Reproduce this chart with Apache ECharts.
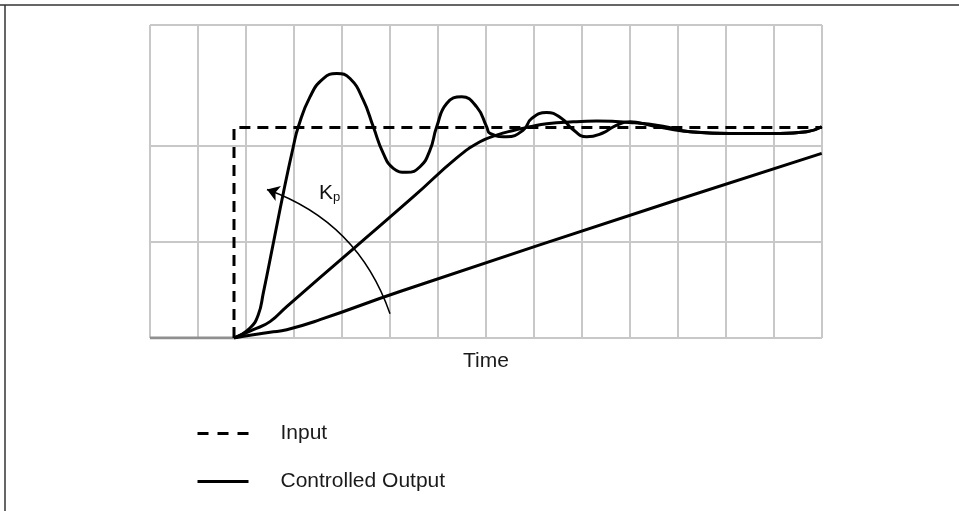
<!DOCTYPE html>
<html>
<head>
<meta charset="utf-8">
<script src="https://cdn.jsdelivr.net/npm/echarts@6/dist/echarts.min.js"></script>
<style>html,body{margin:0;padding:0;background:#fff}#c{width:959px;height:511px}</style>
</head>
<body>
<div id="c"></div>
<script>
// ---- data (x = time in grid columns, y = response in grid rows) ----
const xGridValues = [0,1,2,3,4,5,6,7,8,9,10,11,12,13,14];
const yGridValues = [0, 1, 2, 3.25];
const preStep = [[0, 0], [1.75, 0]];
const inputStep = [[1.75, 0], [1.75, 2.187], [14, 2.187]];
const outputHighKp = [
  [1.75,0],[2.083,0.104],[2.256,0.241],[2.36,0.466],[2.569,0.984],[2.777,1.503],
  [2.985,1.986],[3.09,2.193],[3.333,2.504],[3.61,2.694],[3.89,2.746],[4.167,2.694],
  [4.444,2.469],[4.652,2.193],[4.86,1.917],[5.069,1.762],[5.348,1.72],[5.625,1.778],
  [5.833,1.951],[5.973,2.193],[6.181,2.435],[6.494,2.504],[6.806,2.4],[7.015,2.193],
  [7.083,2.124],[7.431,2.089],[7.777,2.159],[7.952,2.28],[8.265,2.342],[8.577,2.28],
  [8.785,2.176],[9.098,2.089],[9.444,2.131],[9.652,2.193],[10.0,2.245],[10.417,2.21],
  [10.833,2.169],[11.25,2.141],[12.083,2.124],[13.125,2.124],[13.681,2.141],[13.994,2.193]
];
const outputMidKp = [
  [1.75,0],[2.152,0.086],[2.5,0.17],[2.848,0.327],[4.235,0.926],[5.5,1.472],
  [6.39,1.87],[6.875,2.037],[7.223,2.107],[7.569,2.155],[7.917,2.193],[8.265,2.225],
  [8.819,2.245],[9.306,2.252],[10.0,2.238],[10.688,2.2],[11.25,2.141],[12.083,2.124],
  [13.125,2.124],[13.681,2.141],[13.994,2.193]
];
const outputLowKp = [
  [1.75,0],[2.152,0.034],[2.5,0.06],[2.848,0.086],[3.542,0.19],[5.208,0.483],
  [10.973,1.433],[13.994,1.917]
];
const kpArrow = [[5.0, 0.252], [2.4375, 1.542]];
const kpLabelAt = [3.52, 1.506];
const legendNames = ['Input', 'Controlled Output'];

const FONT = 'Liberation Sans, Arial, sans-serif';
const chart = echarts.init(document.getElementById('c'), null, {renderer: 'canvas'});
const outStyle = {color: '#000', width: 3};

chart.setOption({
  animation: false,
  backgroundColor: '#fff',
  grid: {left: 150, right: 137, top: 25, bottom: 173},
  xAxis: {
    type: 'value', min: 0, max: 14, interval: 1,
    name: 'Time', nameLocation: 'middle', nameGap: 13,
    nameTextStyle: {fontSize: 21, fontFamily: FONT, color: '#1a1a1a'},
    axisLine: {show: false}, axisTick: {show: false}, axisLabel: {show: false},
    splitLine: {show: true, lineStyle: {color: '#c8c8c8', width: 2}}
  },
  yAxis: {
    type: 'value', min: 0, max: 3.25,
    axisLine: {show: false},
    axisTick: {show: false, customValues: yGridValues},
    axisLabel: {show: false},
    splitLine: {show: true, lineStyle: {color: '#c8c8c8', width: 2}}
  },
  legend: {
    data: [
      {name: legendNames[0], lineStyle: {type: [11, 9], width: 3}},
      {name: legendNames[1], lineStyle: {width: 3}}
    ],
    orient: 'vertical',
    left: 196, top: 423, padding: 0,
    itemWidth: 51, itemHeight: 21, itemGap: 27,
    itemStyle: {opacity: 0},
    lineStyle: {width: 3},
    selectedMode: false,
    textStyle: {fontSize: 21, fontFamily: FONT, color: '#1a1a1a', padding: [0, 0, 0, 27]}
  },
  graphic: [
    {type: 'line', shape: {x1: 0, y1: 5, x2: 959, y2: 5}, style: {stroke: '#333', lineWidth: 1.5}},
    {type: 'line', shape: {x1: 5, y1: 5, x2: 5, y2: 511}, style: {stroke: '#333', lineWidth: 1.5}}
  ],
  series: [
    {name: 'base', type: 'line', data: preStep, symbol: 'none',
     lineStyle: {color: '#8f8f8f', width: 3}, silent: true},
    {name: 'Input', type: 'line', data: inputStep, symbol: 'none', itemStyle: {color: '#000'},
     lineStyle: {color: '#000', width: 3, type: [11, 7]}, z: 3},
    {name: 'Controlled Output', type: 'line', data: outputLowKp, symbol: 'none', smooth: true,
     itemStyle: {color: '#000'}, lineStyle: outStyle},
    {name: 'Controlled Output', type: 'line', data: outputMidKp, symbol: 'none', smooth: true,
     itemStyle: {color: '#000'}, lineStyle: outStyle},
    {name: 'Controlled Output', type: 'line', data: outputHighKp, symbol: 'none', smooth: true,
     itemStyle: {color: '#000'}, lineStyle: outStyle},
    {name: 'Kp', type: 'lines', coordinateSystem: 'cartesian2d',
     data: [{coords: kpArrow}],
     symbol: ['none', 'arrow'], symbolSize: 12,
     lineStyle: {color: '#000', width: 1.5, curveness: -0.24, opacity: 1}},
    {name: 'KpLabel', type: 'scatter', data: [kpLabelAt], symbolSize: 0,
     itemStyle: {opacity: 1, color: '#000'},
     label: {show: true, position: 'right', distance: 0, opacity: 1,
       formatter: '{k|K}{p|p}',
       rich: {
         k: {fontSize: 21, fontFamily: FONT, color: '#111', lineHeight: 22},
         p: {fontSize: 13, fontFamily: FONT, color: '#111', verticalAlign: 'bottom'}
       }}}
  ]
});
</script>
</body>
</html>
